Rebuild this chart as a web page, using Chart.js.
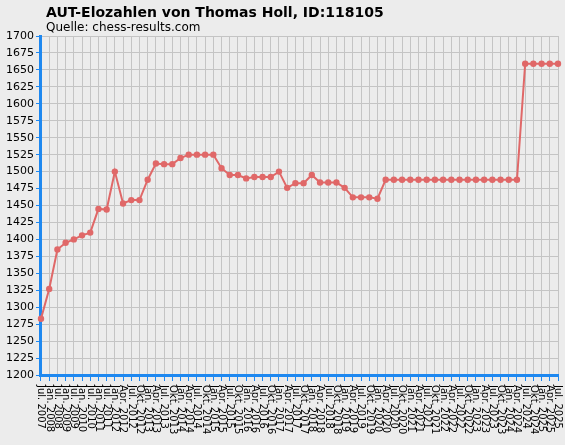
<!DOCTYPE html>
<html><head><meta charset="utf-8">
<script src="https://cdn.jsdelivr.net/npm/chart.js@4"></script>
<style>html,body{margin:0;padding:0;background:#ececec}#wrap{width:565px;height:445px}</style>
</head><body><div id="wrap"><canvas id="c"></canvas></div>
<script>
const months = ['Jul. 2007','Jan. 2008','Jul. 2008','Jan. 2009','Jul. 2009','Jan. 2010','Jul. 2010','Jan. 2011','Jul. 2011'];
const quarters = ['Jan.','Apr.','Jul.','Okt.'];
const years = [2012,2013,2014,2015,2016,2017,2018,2019,2020,2021,2022,2023,2024,2025];
const labels = months.slice();
years.forEach(y => quarters.forEach(q => { if (!(y === 2025 && q === 'Okt.')) labels.push(q + ' ' + y); }));

const elo = [1283,1327,1385,1395,1400,1406,1410,1445,1444,1500,1453,1458,1458,1488,1512,1511,1511,1520,1525,1525,1525,1525,
  1505,1495,1495,1490,1492,1492,1492,1500,1476,1483,1483,1495,1484,1484,1484,1476,1462,1462,1462,1460,
  1488,1488,1488,1488,1488,1488,1488,1488,1488,1488,1488,1488,1488,1488,1488,1488,1488,
  1659,1659,1659,1659,1659];

const blue = '#1e88f0';

const textPlugin = {
  id: 'texts',
  afterDraw(chart) {
    const ctx = chart.ctx, x = chart.scales.x;
    ctx.save();
    ctx.fillStyle = '#000';
    ctx.font = 'bold 14px "DejaVu Sans"';
    ctx.textBaseline = 'alphabetic';
    ctx.fillText('AUT-Elozahlen von Thomas Holl, ID:118105', 46, 17);
    ctx.font = '12px "DejaVu Sans"';
    ctx.fillText('Quelle: chess-results.com', 46, 31);
    ctx.font = '10px "DejaVu Sans"';
    ctx.textBaseline = 'middle';
    labels.forEach((l, i) => {
      const px = x.getPixelForTick(i);
      ctx.save();
      ctx.translate(px, x.top + 10);
      ctx.rotate(Math.PI / 2);
      ctx.fillText(l, 0, 0);
      ctx.restore();
    });
    ctx.restore();
  }
};

new Chart(document.getElementById('c'), {
  type: 'line',
  data: {
    labels: labels,
    datasets: [{
      data: elo,
      borderColor: '#e06868',
      backgroundColor: '#e06868',
      borderWidth: 2,
      pointRadius: 2.2,
      pointHoverRadius: 3,
      tension: 0
    }]
  },
  options: {
    animation: false,
    responsive: true,
    maintainAspectRatio: false,
    layout: { padding: { top: 36, right: 7, bottom: 64, left: 4 } },
    plugins: { legend: { display: false }, tooltip: { enabled: false } },
    scales: {
      x: {
        offset: false,
        grid: { color: '#c4c4c4', tickColor: blue, tickLength: 6 },
        border: { color: blue, width: 3 },
        ticks: { display: false, autoSkip: false }
      },
      y: {
        min: 1200, max: 1700,
        grid: { color: '#c4c4c4', tickColor: blue, tickLength: 5 },
        border: { color: blue, width: 3 },
        ticks: { stepSize: 25, color: '#000', font: { family: 'DejaVu Sans', size: 11 }, padding: 2,
          callback: v => String(v) }
      }
    }
  },
  plugins: [textPlugin]
});
</script></body></html>
